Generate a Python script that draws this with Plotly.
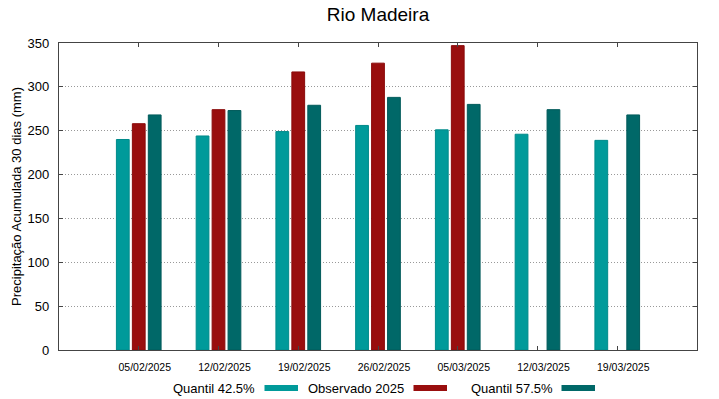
import plotly.graph_objects as go

# ---- data ----
dates = ["05/02/2025", "12/02/2025", "19/02/2025", "26/02/2025",
         "05/03/2025", "12/03/2025", "19/03/2025"]
series_names = ["Quantil 42.5%", "Observado 2025", "Quantil 57.5%"]
q425 = [240, 244, 249, 256, 251, 246, 239]
obs2025 = [258, 274, 317, 327, 347, None, None]
q575 = [268, 273, 279, 288, 280, 274, 268]
yticks = [0, 50, 100, 150, 200, 250, 300, 350]

colors = ["#009a9a", "#990e0e", "#006868"]
borders = ["#008a8a", "#8a0a0a", "#005a5a"]
values = [q425, obs2025, q575]

xpos = list(range(len(dates)))

fig = go.Figure()
for name, vals, c, bc in zip(series_names, values, colors, borders):
    fig.add_trace(go.Bar(x=xpos, y=vals, name=name, marker_color=c,
                         marker_line=dict(color=bc, width=1),
                         showlegend=False))

# page geometry (pixels); body margin removed via post_script
W, H = 719, 399
PL, PR, PT, PB = 59, 697, 43, 350   # plot area in page pixels
L, T = PL, PT
pw = PR - PL
ph = PB - PT
R = W - L - pw
B = H - T - ph

def px2paper_x(px):
    return (px - PL) / pw

def px2paper_y(py):
    return (PB - py) / ph

# custom gnuplot-style legend: text then sample
legend_text_end = [257, 406, 555]
legend_sample = [(264.5, 298), (413.5, 447), (561.5, 595)]
legend_y = 388
annotations = []
shapes = []
for name, c, te, (s0, s1) in zip(series_names, colors, legend_text_end, legend_sample):
    annotations.append(dict(x=px2paper_x(te), y=px2paper_y(legend_y), xref="paper", yref="paper",
                            text=name, showarrow=False, xanchor="right", yanchor="middle",
                            font=dict(family="Liberation Sans", size=13, color="#000")))
    shapes.append(dict(type="rect", xref="paper", yref="paper",
                       x0=px2paper_x(s0), x1=px2paper_x(s1),
                       y0=px2paper_y(legend_y - 3), y1=px2paper_y(legend_y + 3),
                       fillcolor=c, line=dict(width=0)))

fig.update_layout(
    width=W, height=H, autosize=False,
    margin=dict(l=L, r=R, t=T, b=B, pad=0),
    paper_bgcolor="white", plot_bgcolor="white",
    barmode="group", bargap=0.4, bargroupgap=0.2,
    title=dict(text="Rio Madeira", x=px2paper_x(378), xref="paper", xanchor="center",
               y=1 - 14 / H, yref="container", yanchor="middle", automargin=False,
               font=dict(family="Liberation Sans", size=19, color="#000")),
    font=dict(family="Liberation Sans", color="#000"),
    annotations=annotations, shapes=shapes,
)
fig.update_xaxes(range=[-1, len(dates)], tickvals=xpos, ticktext=dates,
                 tickfont=dict(size=10.5), showgrid=False, zeroline=False,
                 showline=True, linecolor="#444", linewidth=1.3, mirror="ticks",
                 ticks="inside", ticklen=4, tickcolor="#444", ticklabelstandoff=7,
                 ticklabelshift=6, automargin=False)
fig.update_yaxes(range=[0, 350], tickvals=yticks, tickfont=dict(size=13),
                 showgrid=True, gridcolor="#999", griddash="1px,2px", gridwidth=1,
                 zeroline=False, showline=True, linecolor="#444", linewidth=1.3,
                 mirror="ticks", ticks="inside", ticklen=4, tickcolor="#444",
                 ticklabelstandoff=6, automargin=False,
                 title=dict(text="Precipitação Acumulada 30 dias (mm)",
                            font=dict(size=13), standoff=2))

fig.write_html("out.html", config={"displayModeBar": False},
               post_script="document.body.style.margin='0';document.body.style.overflow='hidden';")
